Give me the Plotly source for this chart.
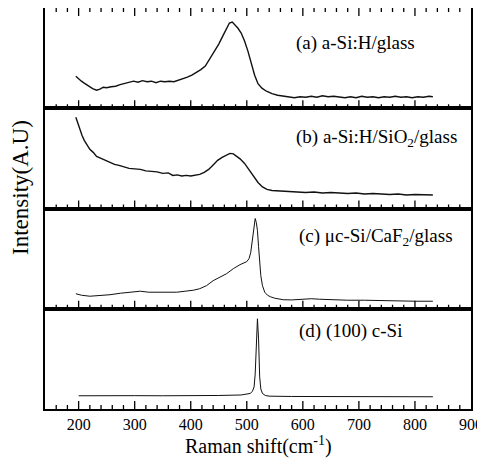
import plotly.graph_objects as go

# ---- data ----
xa = [195, 200, 205, 210, 215, 220, 225, 232, 238, 244, 250, 258, 266, 274, 282, 290, 298, 306, 314, 322,
      330, 338, 346, 354, 362, 370, 378, 386, 394, 402, 410, 418, 426, 434, 442, 450, 458, 464, 469, 474,
      479, 484, 490, 496, 502, 508, 514, 520, 527, 535, 545, 555, 565, 575, 585, 595, 605, 615, 625, 635,
      645, 655, 665, 675, 685, 695, 705, 715, 725, 735, 745, 755, 765, 775, 785, 795, 805, 815, 825, 832]
ya = [32, 29, 27, 25, 23, 21, 19.5, 18, 19, 21, 20.5, 21.5, 22, 23.5, 24.5, 26, 27, 26, 27.5, 26.5,
      27, 25.5, 27, 26.5, 27, 26.5, 28, 29, 31, 33, 35.5, 38.5, 42, 49, 56, 64, 73, 80, 85, 86,
      83, 80, 75, 67, 57, 45, 33, 24.5, 20, 17, 14.5, 13, 12, 11.5, 10.5, 11.5, 11, 12, 11, 12.5,
      11.5, 12, 11, 10.5, 11.5, 10.5, 12, 11, 11.5, 10.5, 11.5, 11, 12, 11, 11.5, 10.5, 11.5, 11, 12, 11.5]

xb = [195, 198, 202, 206, 210, 215, 220, 226, 232, 240, 248, 256, 264, 272, 280, 290, 300, 310, 320, 330,
      340, 350, 360, 368, 376, 384, 392, 400, 408, 416, 424, 432, 440, 448, 456, 464, 470, 476, 482, 488,
      496, 504, 512, 520, 528, 536, 545, 555, 565, 575, 590, 605, 620, 635, 650, 665, 680, 695, 710, 725,
      740, 755, 770, 785, 800, 815, 832]
yb = [91, 86, 79, 73, 68, 63, 59, 56, 52, 50, 48, 46, 44, 43, 41.5, 40, 39.5, 39, 37.5, 37,
      36.5, 35, 35.5, 33, 33.5, 32.5, 33, 32.5, 33.5, 34, 36, 39, 43.5, 48, 51, 53, 55, 54.5, 52, 49.5,
      45, 39, 32, 26, 21.5, 19, 18, 17.5, 17, 16.5, 16.5, 16, 16.5, 15.5, 16, 15.5, 15, 15.5, 14.5, 15,
      14.5, 14, 14.5, 13.5, 14, 13.5, 13.5]

xc = [195, 205, 220, 240, 256, 275, 295, 310, 325, 340, 360, 375, 390, 405, 416, 428, 440, 452, 464, 476,
      488, 500, 504, 507, 509, 511, 513, 515, 517, 519, 521, 523, 525, 528, 532, 537, 542, 550, 565, 580,
      600, 615, 630, 650, 680, 710, 740, 770, 800, 832]
yc = [15, 13.5, 12.5, 13, 14, 15.5, 17, 17.5, 16.5, 16.5, 16, 16.5, 17.5, 18.5, 20, 23, 28, 31.5, 35, 40,
      44, 47, 50, 56, 65, 78, 87, 90, 86, 78, 62, 45, 33, 23, 16.5, 13.5, 12, 10.5, 9, 8.8,
      9.5, 10, 9.5, 9, 8.5, 8.5, 8, 8, 7.5, 7.5]

xd = [200, 250, 300, 350, 400, 450, 490, 500, 506, 510, 513, 515, 517, 519, 521, 523, 525, 528, 533, 540,
      580, 650, 700, 750, 800, 832]
yd = [13.2, 13.5, 13.3, 13.2, 13.2, 13.5, 14, 14.5, 15.5, 17.5, 22, 35, 70, 90, 70, 32, 20, 15.5, 13.5, 12.8,
      12.5, 12.5, 12.3, 12.2, 12.2, 12.2]

major_ticks = [200, 300, 400, 500, 600, 700, 800]
minor_ticks = [160, 180, 220, 240, 260, 280, 320, 340, 360, 380, 420, 440, 460, 480,
               520, 540, 560, 580, 620, 640, 660, 680, 720, 740, 760, 780, 820, 840, 860, 880]

labels = ["(a) a-Si:H/glass", "(b) a-Si:H/SiO<sub>2</sub>/glass",
          "(c) \u03bcc-Si/CaF<sub>2</sub>/glass", "(d) (100) c-Si"]
label_x = [584, 584, 590, 590]
label_y = [65, 70, 72, 78]

FONT = "Liberation Serif"
MAJOR_LEN = 8   # tick length in y units (about 1 px per unit)
MINOR_LEN = 4


def tick_segments(vals, y0, y1):
    xs, ys = [], []
    for v in vals:
        xs += [v, v, None]
        ys += [y0, y1, None]
    return xs, ys


fig = go.Figure()
doms = [[0.75, 1.0], [0.5, 0.75], [0.25, 0.5], [0.0, 0.25]]

series = [(xa, ya, 1.4), (xb, yb, 1.4), (xc, yc, 1.0), (xd, yd, 1.0)]
for i, (xs, ys, w) in enumerate(series, start=1):
    ax = "" if i == 1 else str(i)
    fig.add_trace(go.Scatter(x=xs, y=ys, mode="lines", line=dict(color="#111", width=w),
                             xaxis="x" + ax, yaxis="y" + ax, showlegend=False, hoverinfo="skip"))
    # inward tick marks: bottom edge of every panel, top edge of panel a
    edges = [(0, 1), (100, -1)] if i == 1 else [(0, 1)]
    for edge, sign in edges:
        for vals, ln in ((major_ticks, MAJOR_LEN), (minor_ticks, MINOR_LEN)):
            tx, ty = tick_segments(vals, edge, edge + sign * ln)
            fig.add_trace(go.Scatter(x=tx, y=ty, mode="lines",
                                     line=dict(color="black", width=1.3),
                                     xaxis="x" + ax, yaxis="y" + ax,
                                     showlegend=False, hoverinfo="skip"))

for i in range(1, 5):
    ax = "" if i == 1 else str(i)
    fig.update_layout(**{
        "xaxis" + ax: dict(range=[140, 900], anchor="y" + ax, domain=[0, 1], showline=True,
                           linecolor="black", linewidth=1.6, mirror=True,
                           tickmode="linear", tick0=0, dtick=100, ticks="",
                           showgrid=False, zeroline=False, automargin=False,
                           showticklabels=(i == 4),
                           tickfont=dict(family=FONT, size=16, color="black")),
        "yaxis" + ax: dict(range=[0, 100], anchor="x" + ax, domain=doms[i - 1], showline=True,
                           linecolor="black", linewidth=1.6, mirror=True, ticks="",
                           showgrid=False, zeroline=False, showticklabels=False, automargin=False),
    })

for i, (t, lx, ly) in enumerate(zip(labels, label_x, label_y), start=1):
    ax = "" if i == 1 else str(i)
    fig.add_annotation(x=lx, y=ly, xref="x" + ax, yref="y" + ax,
                       text=t, showarrow=False, xanchor="left", yanchor="middle",
                       font=dict(family=FONT, size=19, color="black"))

fig.add_annotation(x=-0.058, y=0.552, xref="paper", yref="paper", text="Intensity(A.U)",
                   textangle=-90, showarrow=False, xanchor="center", yanchor="middle",
                   font=dict(family=FONT, size=23, color="black"))
fig.add_annotation(x=0.5, y=-0.092, xref="paper", yref="paper",
                   text="Raman shift(cm<sup>-1</sup>)",
                   showarrow=False, xanchor="center", yanchor="middle",
                   font=dict(family=FONT, size=20, color="black"))

# the page body adds an 8 px offset, so margins are reduced accordingly
fig.update_layout(width=485, height=462, margin=dict(l=37, r=22, t=0, b=61),
                  paper_bgcolor="white", plot_bgcolor="white",
                  font=dict(family=FONT, color="black"))

fig.write_html("out.html")
